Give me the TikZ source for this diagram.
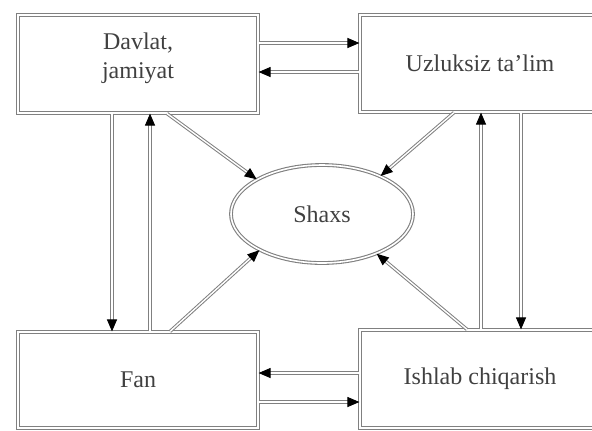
\documentclass[tikz,border=0pt]{standalone}
\usepackage{fontspec}
\setmainfont{Liberation Serif}
\usetikzlibrary{arrows.meta,shapes.geometric}

\begin{document}
\begin{tikzpicture}[x=0.5pt,y=0.5pt,yscale=-1,xscale=1,
    box/.style={draw=black!50, double=white, double distance=0.8pt, line width=0.55pt, minimum width=120pt, inner sep=0pt, align=center, text=black!75, font=\fontsize{12}{14.5}\selectfont},
    arr/.style={draw=black!50, double=white, double distance=0.7pt, line width=0.5pt, -{Triangle[length=6pt,width=5pt,color=black]}}]
                    \useasboundingbox (0,0) rectangle (592,430);
                    \clip (0,0) rectangle (592,430);
                    %Shape: Rectangle
                    \node [box, minimum height=49pt, text depth=8.5pt] (davlat) at (138,64) {Davlat,\\jamiyat};
                    %Shape: Rectangle
                    \node [box, minimum height=48.5pt] (talim) at (480,63.5) {Uzluksiz ta'lim};
                    %Shape: Rectangle
                    \node [box, minimum height=48pt] (fan) at (138,380) {Fan};
                    %Shape: Rectangle
                    \node [box, minimum height=49pt] (ishlab) at (480,379) {Ishlab chiqarish};
                    %Shape: Ellipse
                    \node [box, ellipse, minimum width=91pt, minimum height=49pt] (shaxs) at (322,214) {Shaxs};

                    %Straight Lines
                    \draw [arr] (davlat.east |- 0,43) -- (talim.west |- 0,43);
                    \draw [arr] (talim.west |- 0,72) -- (davlat.east |- 0,72);
                    \draw [arr] (ishlab.west |- 0,373) -- (fan.east |- 0,373);
                    \draw [arr] (fan.east |- 0,402) -- (ishlab.west |- 0,402);
                    %Straight Lines
                    \draw [arr] (davlat.south -| 112,0) -- (fan.north -| 112,0);
                    \draw [arr] (fan.north -| 150,0) -- (davlat.south -| 150,0);
                    \draw [arr] (ishlab.north -| 481,0) -- (talim.south -| 481,0);
                    \draw [arr] (talim.south -| 521,0) -- (ishlab.north -| 521,0);
                    %Straight Lines
                    \draw [arr] (davlat.south -| 167,0) -- (shaxs.152);
                    \draw [arr] (talim.south -| 454,0) -- (shaxs.33);
                    \draw [arr] (fan.north -| 170,0) -- (shaxs.210);
                    \draw [arr] (ishlab.north -| 467,0) -- (shaxs.324);
                \end{tikzpicture}
\end{document}
